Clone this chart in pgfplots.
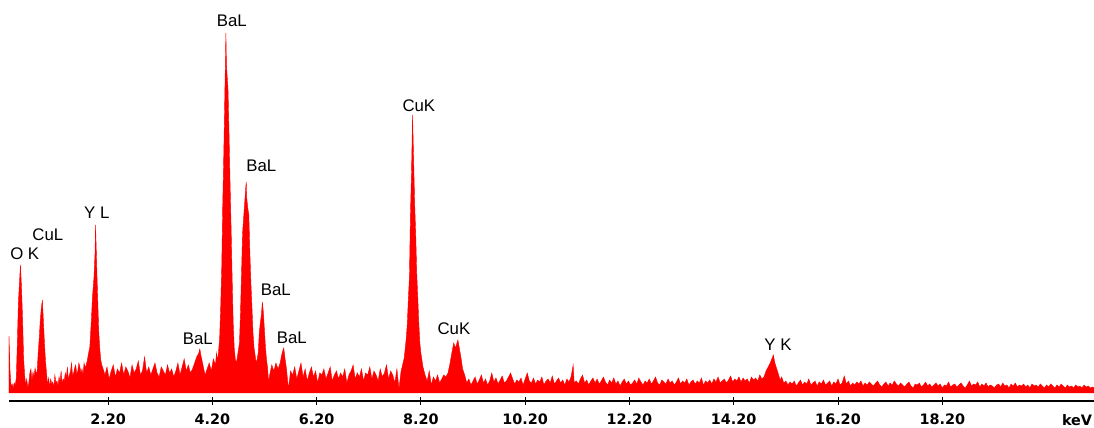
\documentclass[border=0pt]{standalone}
\usepackage{fontspec}
\setmainfont{Liberation Sans}
\newfontfamily\tickfont{DejaVu Sans}
\usepackage{pgfplots}
\pgfplotsset{compat=1.18}
\tikzset{lbl/.style={font=\fontsize{8.4}{10}\selectfont, inner sep=0pt, anchor=center}}
\begin{document}
\begin{tikzpicture}
\useasboundingbox (0,0) rectangle (547pt,214pt);
\begin{axis}[
  at={(4.5pt,13.5pt)}, anchor=south west,
  scale only axis, width=542.5pt, height=200.5pt,
  xmin=0.30, xmax=21.11, ymin=-8, ymax=393,
  axis y line=none, axis x line=bottom,
  x axis line style={-, line width=0.65pt, black},
  xtick={2.2,4.2,6.2,8.2,10.2,12.2,14.2,16.2,18.2},
  xticklabels={2.20,4.20,6.20,8.20,10.20,12.20,14.20,16.20,18.20},
  tick align=center, major tick length=4pt,
  xtick style={line width=0.5pt, black},
  xticklabel style={font=\tickfont\bfseries\fontsize{7.2}{8}\selectfont, inner sep=0pt, anchor=center, yshift=-7.25pt},
  clip mode=individual,
]
\addplot[draw=red, fill=red, line width=0.2pt, mark=none] coordinates {
(0.30,57) (0.32,22) (0.34,6) (0.36,9) (0.38,5) (0.40,10) (0.42,8) (0.44,15) (0.46,50) (0.48,90) (0.50,110) (0.52,128) (0.54,105) (0.56,75) (0.58,35) (0.60,18)
(0.62,8) (0.64,14) (0.66,5) (0.68,10) (0.70,20) (0.72,24) (0.74,12) (0.76,21) (0.78,16) (0.80,25) (0.82,19) (0.84,22)
(0.86,40) (0.88,55) (0.90,73) (0.92,85) (0.94,93) (0.96,72) (0.98,50) (1.00,32) (1.02,20)
(1.04,8) (1.06,15) (1.08,6) (1.10,14) (1.12,9) (1.14,11) (1.16,5) (1.18,18) (1.20,10) (1.22,12) (1.24,7) (1.26,16) (1.28,11) (1.30,22) (1.32,9) (1.34,14) (1.36,12) (1.38,20) (1.40,15) (1.42,26) (1.44,13) (1.46,18) (1.48,22) (1.50,30) (1.52,17) (1.54,20) (1.56,25) (1.58,28) (1.60,19) (1.62,22) (1.64,30) (1.66,26) (1.68,20) (1.70,24) (1.72,18) (1.74,30) (1.76,25) (1.78,28)
(1.80,32) (1.82,38) (1.85,46) (1.88,73) (1.90,95) (1.93,116) (1.95,140) (1.96,168) (1.97,150) (1.99,113) (2.02,63) (2.04,45) (2.06,33) (2.08,28) (2.10,25)
(2.14,18) (2.18,26) (2.22,14) (2.26,22) (2.30,28) (2.34,16) (2.38,24) (2.42,20) (2.46,30) (2.50,18) (2.54,26) (2.58,22) (2.62,15) (2.66,28) (2.70,20) (2.74,24) (2.78,32) (2.82,18) (2.86,22) (2.90,36) (2.94,20) (2.98,26) (3.02,18) (3.06,24) (3.10,30) (3.14,20) (3.18,16) (3.22,26) (3.26,22) (3.30,18) (3.34,28) (3.38,20) (3.42,24) (3.46,16) (3.50,22) (3.54,30) (3.58,18) (3.62,26) (3.66,34) (3.70,22) (3.74,28) (3.78,20) (3.82,24)
(3.86,30) (3.90,36) (3.94,40) (3.96,44) (3.98,38) (4.02,28) (4.06,18) (4.10,24) (4.14,30) (4.18,22) (4.22,34) (4.26,28) (4.28,40) (4.30,32) (4.32,42)
(4.34,55) (4.36,85) (4.38,125) (4.40,190) (4.42,240) (4.44,300) (4.46,360) (4.47,330) (4.48,320) (4.50,305) (4.52,260) (4.54,210) (4.56,165) (4.58,115) (4.60,70) (4.62,45) (4.64,34) (4.66,30) (4.68,36) (4.70,43) (4.72,50)
(4.74,80) (4.76,120) (4.78,160) (4.80,175) (4.82,190) (4.84,205) (4.85,211) (4.86,195) (4.88,185) (4.90,178) (4.92,140) (4.94,110) (4.96,86) (4.98,60) (5.00,45) (5.02,38) (5.04,30)
(5.06,34) (5.08,40) (5.10,60) (5.12,70) (5.14,78) (5.16,91) (5.18,80) (5.20,62) (5.22,45) (5.24,33) (5.26,25) (5.28,10)
(5.30,18) (5.34,28) (5.38,22) (5.42,30) (5.46,24) (5.50,30) (5.53,38) (5.55,42) (5.57,45) (5.59,36) (5.62,25) (5.66,4) (5.70,22)
(5.74,18) (5.78,26) (5.82,14) (5.86,22) (5.90,30) (5.94,16) (5.98,24) (6.02,12) (6.06,20) (6.10,26) (6.14,16) (6.18,22) (6.22,10) (6.26,20) (6.30,18) (6.34,24) (6.38,14) (6.42,20) (6.46,26) (6.50,12) (6.54,18) (6.58,22) (6.62,14) (6.66,20) (6.70,16) (6.74,24) (6.78,10) (6.82,18) (6.86,22) (6.90,28) (6.94,14) (6.98,20) (7.02,16) (7.06,24) (7.10,12) (7.14,20) (7.18,18) (7.22,26) (7.26,14) (7.30,22) (7.34,18) (7.38,12) (7.42,24) (7.46,16) (7.50,20) (7.54,28) (7.58,14) (7.62,22) (7.66,18) (7.70,10) (7.74,24) (7.78,4) (7.82,22)
(7.84,26) (7.88,35) (7.92,55) (7.94,70) (7.96,95) (7.98,116) (8.00,180) (8.02,220) (8.04,278) (8.06,235) (8.08,190) (8.10,160) (8.12,120) (8.14,96) (8.16,70) (8.18,50) (8.20,40) (8.24,26)
(8.28,18) (8.32,12) (8.36,22) (8.40,8) (8.44,16) (8.48,12) (8.52,18) (8.56,10) (8.60,14) (8.64,18) (8.68,16) (8.72,20) (8.76,30) (8.80,42) (8.83,50) (8.86,45) (8.88,48) (8.91,53) (8.94,44) (8.97,35) (9.00,24) (9.04,18) (9.08,10)
(9.12,14) (9.16,8) (9.20,12) (9.24,16) (9.28,9) (9.32,13) (9.36,18) (9.40,10) (9.44,14) (9.48,8) (9.52,12) (9.56,20) (9.60,11) (9.64,15) (9.68,9) (9.72,13) (9.76,17) (9.80,10) (9.84,12) (9.88,16) (9.92,20) (9.96,14) (10.00,9) (10.04,13) (10.08,11) (10.12,15) (10.16,8) (10.20,14) (10.24,20) (10.28,12) (10.32,10) (10.36,15) (10.40,9) (10.44,13) (10.48,11) (10.52,16) (10.56,8) (10.60,12) (10.64,14) (10.68,10) (10.72,17) (10.76,9) (10.80,12) (10.84,15) (10.88,10) (10.92,13) (10.96,8) (11.00,14) (11.04,11) (11.08,16) (11.12,28) (11.14,10) (11.18,12) (11.22,9) (11.26,14) (11.30,18) (11.34,10) (11.38,13) (11.42,8) (11.46,12) (11.50,15) (11.54,10) (11.58,14) (11.62,9) (11.66,12) (11.70,16) (11.74,11) (11.78,8) (11.82,13) (11.86,10) (11.90,15) (11.94,9) (11.98,12)
(12.02,7) (12.06,11) (12.10,14) (12.14,9) (12.18,12) (12.22,8) (12.26,10) (12.30,13) (12.34,9) (12.38,15) (12.42,11) (12.46,8) (12.50,12) (12.54,10) (12.58,14) (12.62,9) (12.66,12) (12.70,16) (12.74,10) (12.78,8) (12.82,13) (12.86,11) (12.90,9) (12.94,14) (12.98,10) (13.02,12) (13.06,8) (13.10,11) (13.14,15) (13.18,9) (13.22,12) (13.26,10) (13.30,14) (13.34,8) (13.38,11) (13.42,13) (13.46,9) (13.50,12) (13.54,10) (13.58,15) (13.62,8) (13.66,12) (13.70,10) (13.74,13) (13.78,9) (13.82,14) (13.86,11) (13.90,16) (13.94,10) (13.98,12)
(14.02,14) (14.06,10) (14.10,13) (14.14,17) (14.18,11) (14.22,14) (14.26,12) (14.30,16) (14.34,11) (14.38,15) (14.42,12) (14.46,14) (14.50,10) (14.54,16) (14.58,13) (14.62,15) (14.66,12) (14.70,18) (14.74,14) (14.78,16) (14.82,22) (14.86,26) (14.90,30) (14.93,34) (14.96,38) (14.99,30) (15.02,25) (15.05,20) (15.09,13) (15.12,16) (15.16,10) (15.20,12) (15.24,8) (15.28,11)
(15.32,9) (15.36,12) (15.40,7) (15.44,10) (15.48,13) (15.52,8) (15.56,11) (15.60,9) (15.64,14) (15.68,8) (15.72,10) (15.76,12) (15.80,7) (15.84,11) (15.88,9) (15.92,13) (15.96,8) (16.00,10) (16.04,12) (16.08,7) (16.12,11) (16.16,9) (16.20,14) (16.24,8) (16.28,10) (16.32,17) (16.36,9) (16.40,12) (16.44,7) (16.48,10) (16.52,8) (16.56,11) (16.60,9) (16.64,12) (16.68,7) (16.72,10) (16.76,8) (16.80,11) (16.84,9) (16.88,7) (16.92,10) (16.96,12)
(17.00,8) (17.04,6) (17.08,9) (17.12,11) (17.16,7) (17.20,10) (17.24,8) (17.28,12) (17.32,9) (17.36,7) (17.40,10) (17.44,8) (17.48,6) (17.52,9) (17.56,11) (17.60,7) (17.64,5) (17.68,9) (17.72,8) (17.76,10) (17.80,6) (17.84,8) (17.88,11) (17.92,7) (17.96,9) (18.00,6) (18.04,8) (18.08,10) (18.12,7) (18.16,9) (18.20,5) (18.24,8) (18.28,7) (18.32,11) (18.36,6) (18.40,8) (18.44,9) (18.48,6) (18.52,8) (18.56,10) (18.60,7) (18.64,5) (18.68,8) (18.72,12) (18.76,7) (18.80,9) (18.84,8) (18.88,11) (18.92,6) (18.96,9)
(19.00,7) (19.04,10) (19.08,6) (19.12,8) (19.16,7) (19.20,5) (19.24,8) (19.28,9) (19.32,6) (19.36,10) (19.40,7) (19.44,8) (19.48,5) (19.52,9) (19.56,7) (19.60,10) (19.64,6) (19.68,8) (19.72,7) (19.76,9) (19.80,6) (19.84,8) (19.88,5) (19.92,9) (19.96,7) (20.00,8) (20.04,6) (20.08,9) (20.12,7) (20.16,5) (20.20,8) (20.24,6) (20.28,9) (20.32,7) (20.36,5) (20.40,8) (20.44,6) (20.48,9) (20.52,7) (20.56,5) (20.60,8) (20.64,6) (20.68,7) (20.72,5) (20.76,8) (20.80,6) (20.84,7) (20.88,5) (20.92,8) (20.96,6) (21.00,7) (21.04,5) (21.08,6) (21.12,5)
} \closedcycle;
\node[lbl] at (axis cs:0.602,139) {O K};
\node[lbl] at (axis cs:1.044,158) {CuL};
\node[lbl] at (axis cs:1.984,180) {Y L};
\node[lbl] at (axis cs:3.921,54) {BaL};
\node[lbl] at (axis cs:4.574,372) {BaL};
\node[lbl] at (axis cs:5.140,227) {BaL};
\node[lbl] at (axis cs:5.418,103) {BaL};
\node[lbl] at (axis cs:5.725,55.5) {BaL};
\node[lbl] at (axis cs:8.161,287) {CuK};
\node[lbl] at (axis cs:8.833,64) {CuK};
\node[lbl] at (axis cs:15.049,48) {Y K};
\node[font=\tickfont\bfseries\fontsize{7.2}{8}\selectfont, inner sep=0pt, anchor=center, yshift=-9.75pt] at (axis cs:20.785,-8) {keV};
\end{axis}
\end{tikzpicture}
\end{document}
